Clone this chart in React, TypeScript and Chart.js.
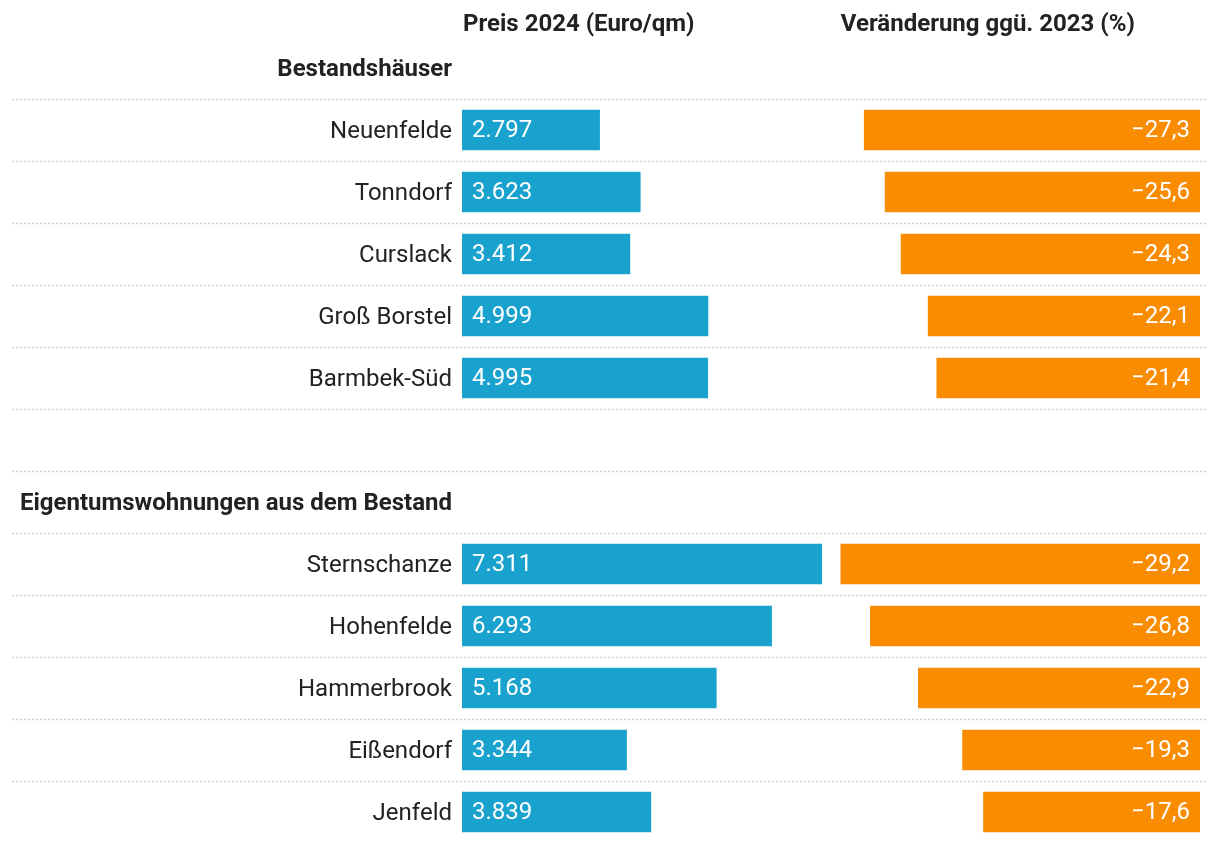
import React, { useEffect, useRef } from "react";
import { Chart, registerables } from "chart.js";

Chart.register(...registerables);

const groupTitles = ["Bestandshäuser", "Eigentumswohnungen aus dem Bestand"];
const districtsHouses = ["Neuenfelde", "Tonndorf", "Curslack", "Groß Borstel", "Barmbek-Süd"];
const pricesHouses = [2797, 3623, 3412, 4999, 4995];
const changesHouses = [-27.3, -25.6, -24.3, -22.1, -21.4];
const districtsFlats = ["Sternschanze", "Hohenfelde", "Hammerbrook", "Eißendorf", "Jenfeld"];
const pricesFlats = [7311, 6293, 5168, 3344, 3839];
const changesFlats = [-29.2, -26.8, -22.9, -19.3, -17.6];
const columnHeaders = ["Preis 2024 (Euro/qm)", "Veränderung ggü. 2023 (%)"];

const FONT = "Roboto, 'Noto Sans', sans-serif";
const TEXT = "#222222";
const BLUE = "#1aa2cf";
const ORANGE = "#f98c00";

const labels = [groupTitles[0], ...districtsHouses, "", groupTitles[1], ...districtsFlats];
const headerRows = new Set([0, 6, 7]);
const priceData = [null, ...pricesHouses, null, null, ...pricesFlats];
const changeData = [null, ...changesHouses, null, null, ...changesFlats];

function fmtPrice(v: number) {
  const s = Math.round(v).toString();
  return s.replace(/\B(?=(\d{3})+(?!\d))/g, ".");
}
function fmtChange(v: number) {
  const s = Math.abs(v).toFixed(1).replace(".", ",");
  return (v < 0 ? "\u2212" : "") + s;
}

const decorPlugin = {
  id: "decor",
  beforeDatasetsDraw(chart: any) {
    const ctx = chart.ctx;
    const y = chart.scales.y;
    ctx.save();
    ctx.strokeStyle = "#cfcfcf";
    ctx.lineWidth = 1.5;
    ctx.setLineDash([2, 2]);
    for (let i = 1; i <= labels.length; i++) {
      const a = y.getPixelForValue(i - 1);
      const b = i < labels.length ? y.getPixelForValue(i) : a + (a - y.getPixelForValue(i - 2));
      const yy = Math.round((a + b) / 2) + 0.5;
      ctx.beginPath();
      ctx.moveTo(12, yy);
      ctx.lineTo(1208, yy);
      ctx.stroke();
    }
    ctx.restore();
  },
  afterDatasetsDraw(chart: any) {
    const ctx = chart.ctx;
    ctx.save();
    ctx.font = `400 24px ${FONT}`;
    ctx.fillStyle = "#ffffff";
    ctx.textBaseline = "middle";
    const m0 = chart.getDatasetMeta(0);
    m0.data.forEach((el: any, i: number) => {
      const v = priceData[i];
      if (v == null) return;
      ctx.textAlign = "left";
      ctx.fillText(fmtPrice(v), el.base + 10, el.y + 1);
    });
    const m1 = chart.getDatasetMeta(1);
    m1.data.forEach((el: any, i: number) => {
      const v = changeData[i];
      if (v == null) return;
      ctx.textAlign = "right";
      ctx.fillText(fmtChange(v), el.base - 10, el.y + 1);
    });
    // column headers
    ctx.fillStyle = TEXT;
    ctx.font = `700 24px ${FONT}`;
    ctx.textAlign = "left";
    const x1 = chart.scales.x.getPixelForValue(0);
    const allChanges = [...changesHouses, ...changesFlats];
    const x2 = chart.scales.x2.getPixelForValue(Math.min(...allChanges));
    ctx.fillText(columnHeaders[0], x1 + 1, 25);
    ctx.fillText(columnHeaders[1], x2, 25);
    ctx.restore();
  },
};

export default function App() {
  const ref = useRef<HTMLCanvasElement>(null);
  useEffect(() => {
    if (!ref.current) return;
    const chart = new Chart(ref.current, {
      type: "bar",
      data: {
        labels,
        datasets: [
          {
            data: priceData as any,
            xAxisID: "x",
            backgroundColor: BLUE,
            barThickness: 40,
            grouped: false,
          } as any,
          {
            data: changeData as any,
            xAxisID: "x2",
            backgroundColor: ORANGE,
            barThickness: 40,
            grouped: false,
          } as any,
        ],
      },
      options: {
        indexAxis: "y",
        animation: false,
        responsive: false,
        maintainAspectRatio: false,
        layout: { padding: { top: 37, right: 20, bottom: 0, left: 0 } },
        plugins: { legend: { display: false }, tooltip: { enabled: false } },
        scales: {
          x: { type: "linear", display: false, min: 0, max: 15000 },
          x2: { type: "linear", display: false, min: -60, max: 0 },
          y: {
            type: "category",
            offset: true,
            grid: { display: false, drawTicks: false },
            border: { display: false },
            afterFit(scale: any) {
              scale.width = 462;
              scale.paddingTop = 0;
              scale.paddingBottom = 0;
            },
            ticks: {
              padding: 10,
              labelOffset: 2,
              color: TEXT,
              autoSkip: false,
              font: (c: any) =>
                headerRows.has(c.index)
                  ? { family: FONT, size: 24, weight: "bold" }
                  : { family: FONT, size: 24, weight: "normal" },
            },
          },
        },
      } as any,
      plugins: [decorPlugin],
    });
    return () => chart.destroy();
  }, []);
  return (
    <div style={{ position: "fixed", left: 0, top: 0, width: 1220, height: 843, background: "#fff" }}>
      <canvas ref={ref} width={1220} height={843} style={{ display: "block", width: 1220, height: 843 }} />
    </div>
  );
}
